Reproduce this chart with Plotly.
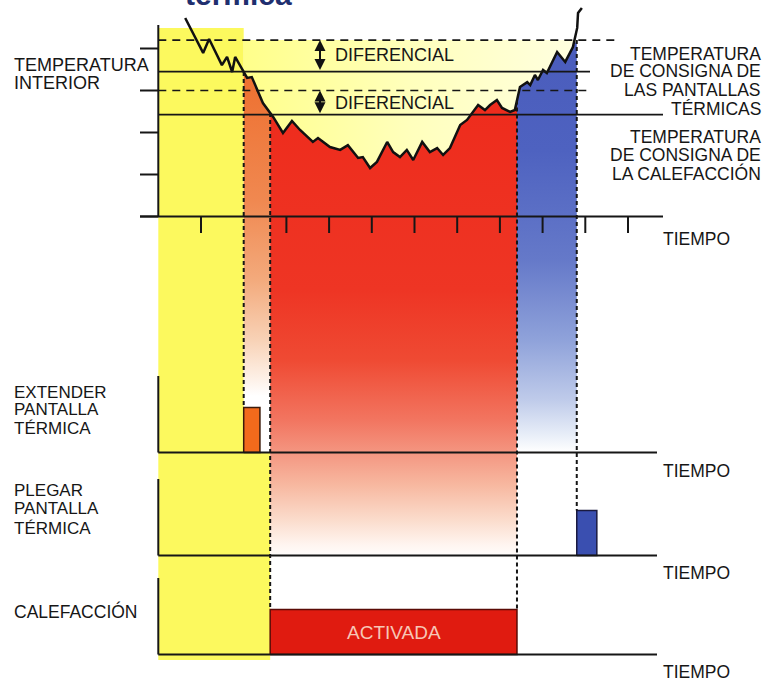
import numpy as np
import plotly.graph_objects as go

# ---------------- data ----------------
# indoor temperature trace (time in hours, temperature in °C)
time_h = [0.63, 1.05, 1.19, 1.49, 1.61, 1.73, 1.80, 2.08, 2.19, 2.45, 2.69, 2.92, 3.13,
          3.32, 3.62, 3.74, 4.02, 4.26, 4.44, 4.68, 4.79, 4.96, 5.12, 5.36, 5.50, 5.66,
          5.82, 5.97, 6.18, 6.36, 6.53, 6.67, 6.83, 7.07, 7.23, 7.49, 7.65, 7.77, 7.93,
          8.05, 8.24, 8.35, 8.47, 8.64, 8.71, 8.82, 8.89, 9.01, 9.10, 9.34, 9.53, 9.71,
          9.81, 9.83, 9.92]
temp_c = [19.45, 17.79, 18.45, 17.21, 17.60, 16.88, 17.60, 16.60, 16.64, 15.40, 14.74,
          13.98, 14.55, 14.12, 13.55, 13.74, 13.31, 13.17, 13.40, 12.79, 12.83, 12.31,
          12.60, 13.55, 13.07, 12.83, 13.17, 12.69, 13.55, 13.07, 13.26, 12.93, 13.26,
          14.36, 14.60, 15.31, 15.07, 15.31, 15.55, 15.17, 14.98, 15.07, 16.17, 16.40,
          16.26, 16.74, 16.50, 16.98, 16.83, 17.83, 17.36, 18.07, 18.98, 19.69, 19.93]

temp_ticks = [10, 12, 14, 16, 18]
time_ticks = [1, 3, 4, 5, 6, 7, 8, 9, 10, 11]

screen_setpoint = 16.9
screen_diff = 1.5
heat_setpoint = 14.85
heat_diff = 1.15

t_screen_extend = 2.0
t_heat_on = 2.62
t_heat_off = 8.40
t_screen_retract = 9.8
extend_pulse_len = 0.38
retract_pulse_len = 0.47
signal_on = 1.0

left_top_label = ["TEMPERATURA", "INTERIOR"]
right_screen_label = ["TEMPERATURA", "DE CONSIGNA DE", "LAS PANTALLAS", "TÉRMICAS"]
right_heat_label = ["TEMPERATURA", "DE CONSIGNA DE", "LA CALEFACCIÓN"]
extend_label = ["EXTENDER", "PANTALLA", "TÉRMICA"]
retract_label = ["PLEGAR", "PANTALLA", "TÉRMICA"]
heat_label = ["CALEFACCIÓN"]
diff_text = "DIFERENCIAL"
time_text = "TIEMPO"
active_text = "ACTIVADA"
title_text = "térmica"

# ---------------- layout helpers ----------------
W, H = 769, 678
X0, XS = 158.3, 42.7        # pixel x of t=0, pixels per hour
Y10, YS = 216.5, 21.0       # pixel y of the 10 °C baseline, pixels per °C
SIG_PX = 45.0               # pixels per signal unit in the lower panels
BASE_EXT, BASE_RET, BASE_HEAT = 452.5, 555.5, 654.5

def t_of(px):
    return (px - X0) / XS

def T_of(py):
    return temp_ticks[0] + (Y10 - py) / YS

FONT = "Liberation Sans, Arial, sans-serif"
INK = "#161616"
YELLOW = "#FCF95E"

tc = np.array(time_h)
Tc = np.array(temp_c)
T_upper_screen = screen_setpoint + screen_diff
T_upper_heat = heat_setpoint + heat_diff


def curve_segment(ta, tb, clip=None):
    m = (tc > ta) & (tc < tb)
    xs = np.concatenate([[ta], tc[m], [tb]])
    ys = np.concatenate([[np.interp(ta, tc, Tc)], Tc[m], [np.interp(tb, tc, Tc)]])
    if clip is not None:
        ys = np.minimum(ys, clip)
    return list(xs), list(ys)


def vgrad(stops_px, bottom_px, top_px):
    cs = []
    for py, col in sorted(stops_px, key=lambda s: -s[0]):
        f = (bottom_px - py) / (bottom_px - top_px)
        cs.append([min(max(f, 0), 1), col])
    return dict(type="vertical", colorscale=cs, start=T_of(bottom_px), stop=T_of(top_px))


fig = go.Figure()

# bright yellow band (page axis, pixel units)
band_x = [0, t_screen_extend, t_screen_extend, t_heat_on, t_heat_on, 0, 0]
band_y = [28, 28, BASE_EXT, BASE_EXT, 660, 660, 28]
fig.add_trace(go.Scatter(x=band_x, y=band_y, yaxis="y", mode="lines", fill="toself",
                         fillcolor=YELLOW, line=dict(width=0), hoverinfo="skip"))

# pale yellow region above the curve
xs, ys = curve_segment(t_screen_extend, t_screen_retract, clip=T_upper_screen)
fig.add_trace(go.Scatter(
    x=xs + [t_screen_retract, t_screen_extend], y=ys + [T_upper_screen, T_upper_screen],
    yaxis="y2", mode="lines", fill="toself", line=dict(width=0), hoverinfo="skip",
    fillgradient=dict(type="horizontal", colorscale=[[0, "#FFFF8A"], [0.5, "#FFFFBC"], [1, "#FFFFE0"]],
                      start=t_screen_extend, stop=t_screen_retract)))

# orange column (screen extended, heating not yet on)
bot = 396
xs, ys = curve_segment(t_screen_extend, t_heat_on)
fig.add_trace(go.Scatter(
    x=xs + [t_heat_on, t_screen_extend], y=ys + [T_of(bot)] * 2, yaxis="y2", mode="lines",
    fill="toself", line=dict(width=0), hoverinfo="skip",
    fillgradient=vgrad([(396, "#FFFFFF"), (378, "#FDF0E6"), (340, "#F8D2B6"), (280, "#F3AA7C"),
                        (200, "#F08850"), (75, "#EE7030")], bot, 75)))

# red area (heating on)
bot = 560
xs, ys = curve_segment(t_heat_on, t_heat_off)
fig.add_trace(go.Scatter(
    x=xs + [t_heat_off, t_heat_on], y=ys + [T_of(bot)] * 2, yaxis="y2", mode="lines",
    fill="toself", line=dict(width=0), hoverinfo="skip",
    fillgradient=vgrad([(560, "#FFFFFF"), (545, "#FFF5F0"), (520, "#FBDCCC"), (485, "#F7B8A0"),
                        (452, "#F49580"), (420, "#F27560"), (360, "#EF4A33"), (290, "#EE3524"),
                        (110, "#EE2C1D")], bot, 110)))

# blue area (heating off, screen still extended)
bot = 452
xs, ys = curve_segment(t_heat_off, t_screen_retract, clip=T_upper_screen)
fig.add_trace(go.Scatter(
    x=xs + [t_screen_retract, t_heat_off], y=ys + [T_of(bot)] * 2, yaxis="y2", mode="lines",
    fill="toself", line=dict(width=0), hoverinfo="skip",
    fillgradient=vgrad([(452, "#FFFFFF"), (435, "#E8EEF8"), (400, "#BFCBEA"), (340, "#8FA2DA"),
                        (260, "#6579C9"), (150, "#4E62C0"), (40, "#4A5CBC")], bot, 40)))

# temperature curve
fig.add_trace(go.Scatter(x=time_h, y=temp_c, yaxis="y2", mode="lines",
                         line=dict(color="#111111", width=2.5), hoverinfo="skip"))

# control signals
def pulse(t0, dur, axis, fill, edge):
    fig.add_trace(go.Scatter(x=[t0, t0, t0 + dur, t0 + dur, t0],
                             y=[0, signal_on, signal_on, 0, 0], yaxis=axis, mode="lines",
                             fill="toself", fillcolor=fill, line=dict(color=edge, width=1.5),
                             hoverinfo="skip"))

pulse(t_screen_extend, extend_pulse_len, "y3", "#F26A1C", "#3A1A0A")
pulse(t_screen_retract, retract_pulse_len, "y4", "#3A4FB0", "#1A1A40")
pulse(t_heat_on, t_heat_off - t_heat_on, "y5", "#E01B10", "#5A0A05")

# ---------------- shapes (axes, set-points, event lines) ----------------
shapes = []
def line(x0, y0, x1, y1, yref, width=2, dash=None, color=INK):
    d = dict(type="line", xref="x", yref=yref, x0=x0, y0=y0, x1=x1, y1=y1,
             line=dict(color=color, width=width))
    if dash:
        d["line"]["dash"] = dash
    shapes.append(d)

# temperature panel axes
line(0, 25, 0, Y10, "y", width=2)
for T in temp_ticks:
    line(t_of(140), T, 0, T, "y2", width=2)
line(t_of(140), temp_ticks[0], t_of(663), temp_ticks[0], "y2", width=2)
for t in time_ticks:
    line(t, Y10, t, 233, "y", width=2)

# set-point lines
line(0, T_upper_screen, t_of(618), T_upper_screen, "y2", width=1.6, dash="8px,6px")
line(0, screen_setpoint, t_of(590), screen_setpoint, "y2", width=1.6)
line(0, T_upper_heat, t_of(588), T_upper_heat, "y2", width=1.6, dash="8px,6px")
line(0, heat_setpoint, t_of(663), heat_setpoint, "y2", width=1.6)

# lower panel axes
for ax, base in (("y3", BASE_EXT), ("y4", BASE_RET), ("y5", BASE_HEAT)):
    line(0, 0, 0, 1.7, ax, width=2)
    line(0, 0, t_of(657), 0, ax, width=2)

# event lines (dashed verticals)
def top_T(t):
    return min(float(np.interp(t, tc, Tc)), T_upper_screen)

line(t_screen_extend, top_T(t_screen_extend), t_screen_extend, T_of(BASE_EXT - SIG_PX * signal_on), "y2", width=2, dash="4px,3px")
line(t_heat_on, top_T(t_heat_on), t_heat_on, T_of(BASE_HEAT - SIG_PX * signal_on), "y2", width=2, dash="4px,3px")
line(t_heat_off, top_T(t_heat_off), t_heat_off, T_of(BASE_HEAT - SIG_PX * signal_on), "y2", width=2, dash="4px,3px")
line(t_screen_retract, top_T(t_screen_retract), t_screen_retract, T_of(BASE_RET - SIG_PX * signal_on), "y2", width=2, dash="4px,3px")

# ---------------- annotations ----------------
ann = []
def label(text, x_px, y_px, anchor="left", size=18, color=INK, bold=False):
    ann.append(dict(x=x_px / W, y=1 - y_px / H, xref="paper", yref="paper", text=text,
                    showarrow=False, xanchor=anchor, yanchor="middle",
                    font=dict(family=FONT, size=size, color=color,
                              weight="bold" if bold else "normal")))

label(title_text, 183, -5, size=30, color="#1F2F6F", bold=True)
for txt, y in zip(left_top_label, [65, 83.5]):
    label(txt, 12, y)
for txt, y in zip(right_screen_label, [53.5, 71.5, 90, 108.5]):
    label(txt, 763, y, anchor="right", size=17.5)
for txt, y in zip(right_heat_label, [136.5, 155, 173.5]):
    label(txt, 763, y, anchor="right", size=17.5)
for txt, y in zip(extend_label, [392.5, 409.5, 428]):
    label(txt, 12, y, size=17)
for txt, y in zip(retract_label, [490.5, 508.5, 528.5]):
    label(txt, 12, y, size=17)
for txt, y in zip(heat_label, [611]):
    label(txt, 12, y, size=17.5)
for y in [239, 471, 573, 672]:
    label(time_text, 661, y, size=17.5)
label(diff_text, 333, 55.5)
label(diff_text, 333, 102.5)
ann.append(dict(x=(t_heat_on + t_heat_off) / 2, y=signal_on / 2, xref="x", yref="y5",
                text=active_text, showarrow=False, xanchor="center", yanchor="middle",
                font=dict(family=FONT, size=19, color="#F7C6B6")))

t_arrow = t_of(320)
for lo, hi in [(screen_setpoint, T_upper_screen), (heat_setpoint, T_upper_heat)]:
    ann.append(dict(x=t_arrow, y=hi, ax=t_arrow, ay=lo, xref="x", yref="y2", axref="x",
                    ayref="y2", text="", showarrow=True, arrowhead=2, arrowside="end+start",
                    arrowsize=1.1, arrowwidth=2, arrowcolor="#111111", standoff=0,
                    startstandoff=0))


def sig_range(base):
    return [(base - H) / SIG_PX, base / SIG_PX]

fig.update_layout(
    template="none", width=W, height=H, margin=dict(l=0, r=0, t=0, b=0),
    paper_bgcolor="white", plot_bgcolor="white", showlegend=False,
    xaxis=dict(range=[t_of(0), t_of(W)], visible=False, fixedrange=True),
    yaxis=dict(range=[H, 0], visible=False, fixedrange=True),
    yaxis2=dict(range=[T_of(H), T_of(0)], overlaying="y", visible=False, fixedrange=True),
    yaxis3=dict(range=sig_range(BASE_EXT), overlaying="y", visible=False, fixedrange=True),
    yaxis4=dict(range=sig_range(BASE_RET), overlaying="y", visible=False, fixedrange=True),
    yaxis5=dict(range=sig_range(BASE_HEAT), overlaying="y", visible=False, fixedrange=True),
    shapes=shapes, annotations=ann,
)

fig.write_html("out.html", config={"displayModeBar": False},
               post_script="document.body.style.margin='0px';document.body.style.overflow='hidden';")
